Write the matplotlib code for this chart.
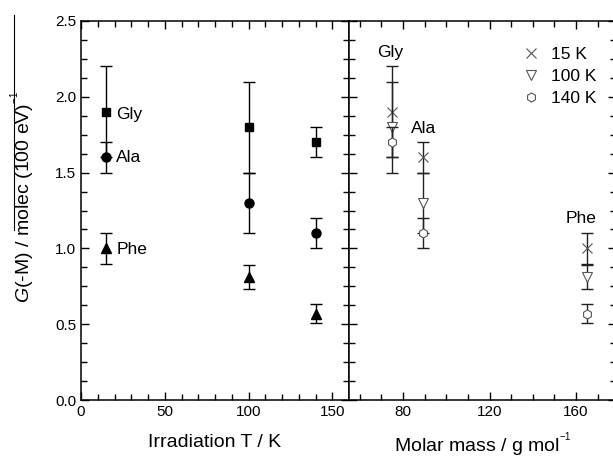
import numpy as np
import matplotlib.pyplot as plt
from matplotlib.lines import Line2D
from matplotlib.ticker import MultipleLocator

plt.rcParams['font.family'] = ['Liberation Sans', 'DejaVu Sans']
plt.rcParams['mathtext.fontset'] = 'custom'
plt.rcParams['mathtext.rm'] = 'Liberation Sans'
plt.rcParams['mathtext.it'] = 'Liberation Sans:italic'

# data
temps = [15, 100, 140]
temp_labels = ['15 K', '100 K', '140 K']
amino = ['Gly', 'Ala', 'Phe']
molar_mass = [75, 89, 165]
g_val = {'Gly': [1.9, 1.8, 1.7],
         'Ala': [1.6, 1.3, 1.1],
         'Phe': [1.0, 0.81, 0.57]}
g_err = {'Gly': [0.3, 0.3, 0.1],
         'Ala': [0.1, 0.2, 0.1],
         'Phe': [0.1, 0.08, 0.06]}

fig = plt.figure(figsize=(6.13, 4.59), dpi=100)
W, H = 613, 459
ax1 = fig.add_axes([81 / W, 1 - 400 / H, (349 - 81) / W, (400 - 21) / H])
ax2 = fig.add_axes([349 / W, 1 - 400 / H, (616 - 349) / W, (400 - 21) / H])

# left panel: G vs irradiation temperature
fill_markers = {'Gly': 's', 'Ala': 'o', 'Phe': '^'}
fill_sizes = {'Gly': 5.5, 'Ala': 6.5, 'Phe': 6.5}
for a in amino:
    ax1.errorbar(temps, g_val[a], yerr=g_err[a], fmt=fill_markers[a], color='black',
                 ms=fill_sizes[a], capsize=4, elinewidth=1, capthick=1)
ax1.text(21, 1.88, 'Gly', fontsize=12.5, va='center')
ax1.text(21, 1.6, 'Ala', fontsize=12.5, va='center')
ax1.text(21, 0.99, 'Phe', fontsize=12.5, va='center')

ax1.set_xlim(0, 160)
ax1.set_ylim(0, 2.5)
ax1.xaxis.set_minor_locator(MultipleLocator(10))
ax1.yaxis.set_minor_locator(MultipleLocator(0.125))
ax1.set_xticks([0, 50, 100, 150])
ax1.set_yticks([0.0, 0.5, 1.0, 1.5, 2.0, 2.5])
ax1.set_yticklabels(['0.0', '0.5', '1.0', '1.5', '2.0', '2.5'])
ax1.set_xlabel('Irradiation T / K', fontsize=14, labelpad=11)
ax1.set_ylabel(r'$\mathit{G}$(-M) / molec (100 eV)$^{{}^{-1}}$', fontsize=14)
ax1.yaxis.set_label_coords(-0.16, 0.535)

# right panel: G vs molar mass
open_markers = ['x', 'v', 'h']
for i, t in enumerate(temp_labels):
    yv = [g_val[a][i] for a in amino]
    ye = [g_err[a][i] for a in amino]
    ax2.errorbar(molar_mass, yv, yerr=ye, fmt='none', ecolor='#222222',
                 capsize=4, elinewidth=1, capthick=1)
    ax2.plot(molar_mass, yv, linestyle='none', marker=open_markers[i],
             mfc='white' if open_markers[i] != 'x' else 'none', mec='#555555',
             ms=6.5, mew=0.8, label=t)
ax2.text(74, 2.29, 'Gly', fontsize=12.5, ha='center', va='center')
ax2.text(89.5, 1.79, 'Ala', fontsize=12.5, ha='center', va='center')
ax2.text(162.5, 1.2, 'Phe', fontsize=12.5, ha='center', va='center')

ax2.set_xlim(55, 178.5)
ax2.set_ylim(0, 2.5)
ax2.set_xticks([80, 120, 160])
ax2.xaxis.set_minor_locator(MultipleLocator(10))
ax2.yaxis.set_major_locator(MultipleLocator(0.5))
ax2.yaxis.set_minor_locator(MultipleLocator(0.125))
ax2.set_yticklabels([])
ax2.set_xlabel(r'Molar mass / g mol$^{{}^{-1}}$', fontsize=14, labelpad=8)
ax2.legend(loc='upper left', bbox_to_anchor=(0.592, 0.972), frameon=False,
           fontsize=12.5, handletextpad=0.65, labelspacing=0.38, handlelength=1.0)

for ax in (ax1, ax2):
    ax.tick_params(which='both', direction='in', top=True, right=True,
                   labelsize=11, width=1)
    ax.tick_params(which='major', length=6)
    ax.tick_params(which='minor', length=4)
    for s in ax.spines.values():
        s.set_linewidth(1.1)

# overline artefact next to the y label
fig.add_artist(Line2D([13.5 / W, 13.5 / W], [1 - 15 / H, 1 - 230 / H],
                      color='black', lw=0.8))

fig.savefig('out.png', dpi=100)
